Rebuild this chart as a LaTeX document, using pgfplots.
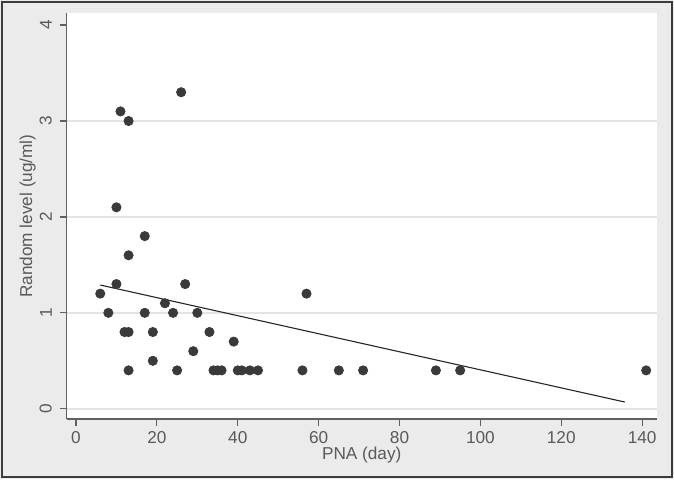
\documentclass[border=0pt]{standalone}
\usepackage{fontspec}
\setmainfont{Liberation Sans}
\usepackage{pgfplots}
\pgfplotsset{compat=1.18}

\definecolor{bgcol}{RGB}{235,235,235}
\definecolor{framecol}{RGB}{60,60,60}
\definecolor{axiscol}{RGB}{95,95,95}
\definecolor{txtcol}{RGB}{90,90,90}
\definecolor{gridcol}{RGB}{228,228,228}
\definecolor{dotcol}{RGB}{58,58,58}

\begin{document}
\begin{tikzpicture}
% graph region (1px = 0.5pt)
\fill[bgcol] (-33.35pt,-30pt) rectangle (303.65pt,209.5pt);
\draw[framecol, line width=0.8pt] (-32.2pt,-28.9pt) rectangle (302.5pt,208.4pt);
\begin{axis}[
  at={(0,0)}, anchor=south west,
  scale only axis, width=295pt, height=202.85pt,
  xmin=-2.3, xmax=143.6, ymin=-0.107, ymax=4.123,
  axis background/.style={fill=white},
  axis x line*=bottom, axis y line*=left,
  axis line style={axiscol, line width=0.7pt},
  xtick={0,20,...,140}, ytick={0,1,2,3},
  extra y ticks={4}, extra y tick style={grid=none},
  ymajorgrids, grid style={gridcol, line width=1pt},
  tick align=outside, major tick length=3.5pt,
  tick style={axiscol, line width=0.6pt},
  font=\fontsize{8.6}{10}\selectfont,
  /pgf/number format/assume math mode=true,
  ticklabel style={text=txtcol},
  xticklabel style={yshift=0.6pt},
  yticklabel style={rotate=90, anchor=south, yshift=0.4pt},
  xlabel={PNA (day)}, ylabel={Random level (ug/ml)},
  label style={text=txtcol},
  xlabel style={at={(axis description cs:0.5,-0.1)}, anchor=base},
  ylabel style={at={(axis description cs:-0.066,0.5)}, anchor=center},
  clip=false,
]
\addplot[only marks, mark=*, mark size=2.3pt, dotcol, mark options={draw=dotcol, fill=dotcol}] coordinates {
(6,1.2)(8,1.0)(10,2.1)(10,1.3)(11,3.1)(12,0.8)(13,0.8)(13,3.0)(13,1.6)(13,0.4)
(17,1.8)(17,1.0)(19,0.8)(19,0.5)(22,1.1)(24,1.0)(25,0.4)(26,3.3)(27,1.3)(29,0.6)
(30,1.0)(33,0.8)(34,0.4)(35,0.4)(36,0.4)(39,0.7)(40,0.4)(41,0.4)(43,0.4)(45,0.4)
(56,0.4)(57,1.2)(65,0.4)(71,0.4)(89,0.4)(95,0.4)(141,0.4)
};
% fitted line
\addplot[black!85, line width=0.55pt] coordinates {(6,1.29)(135.7,0.07)};
\end{axis}
\end{tikzpicture}
\end{document}
